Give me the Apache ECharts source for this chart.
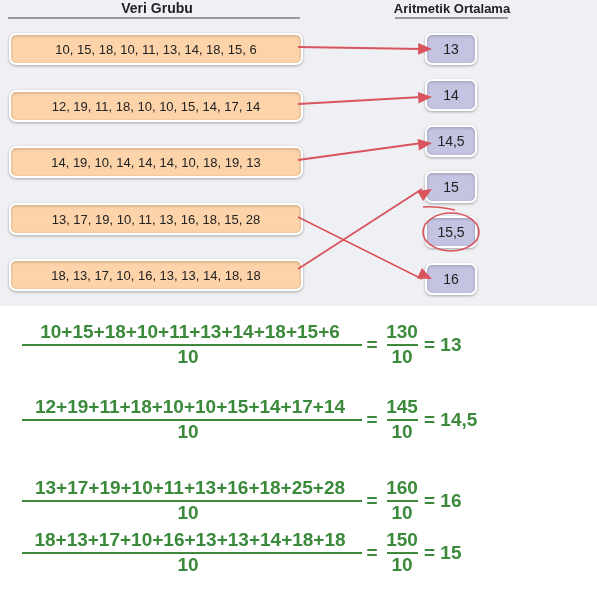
<!DOCTYPE html>
<html>
<head>
<meta charset="utf-8">
<script src="https://cdn.jsdelivr.net/npm/echarts@6/dist/echarts.min.js"></script>
<style>html,body{margin:0;padding:0;background:#fff}#main{width:597px;height:591px}</style>
</head>
<body>
<div id="main"></div>
<script>
// veri grupları ve ortalamalar
const groups = [
  '10, 15, 18, 10, 11, 13, 14, 18, 15, 6',
  '12, 19, 11, 18, 10, 10, 15, 14, 17, 14',
  '14, 19, 10, 14, 14, 14, 10, 18, 19, 13',
  '13, 17, 19, 10, 11, 13, 16, 18, 15, 28',
  '18, 13, 17, 10, 16, 13, 13, 14, 18, 18'
];
const means = ['13', '14', '14,5', '15', '15,5', '16'];
const links = [0, 1, 2, 5, 3]; // her grubun bağlandığı ortalama
const numerators = [
  '10+15+18+10+11+13+14+18+15+6',
  '12+19+11+18+10+10+15+14+17+14',
  '13+17+19+10+11+13+16+18+25+28',
  '18+13+17+10+16+13+13+14+18+18'
];
const sums = ['130', '145', '160', '150'];
const results = ['13', '14,5', '16', '15'];

const leftY = [49, 106, 162, 219, 275];
const rightY = [49, 95, 141, 187, 232, 279];
const fracY = [345, 420, 501, 553];
const red = '#d9545c', green = '#3b8a3b';
const font = '"Liberation Sans", Arial, sans-serif';

const g = [];
g.push({type: 'rect', shape: {x: 0, y: 0, width: 597, height: 306}, style: {fill: '#eef0f3'}});
g.push({type: 'text', x: 157, y: 9, style: {text: 'Veri Grubu', font: 'bold 14px ' + font, fill: '#222', align: 'center', verticalAlign: 'middle'}});
g.push({type: 'line', shape: {x1: 8, y1: 18, x2: 300, y2: 18}, style: {stroke: '#444', lineWidth: 1}});
g.push({type: 'text', x: 452, y: 9, style: {text: 'Aritmetik Ortalama', font: 'bold 13px ' + font, fill: '#222', align: 'center', verticalAlign: 'middle'}});
g.push({type: 'line', shape: {x1: 395, y1: 18, x2: 508, y2: 18}, style: {stroke: '#444', lineWidth: 1}});

groups.forEach((t, i) => {
  g.push({type: 'rect', shape: {x: 10, y: leftY[i] - 15, width: 292, height: 30, r: 6},
    style: {fill: '#fdd3aa', stroke: '#fff', lineWidth: 2, shadowBlur: 3, shadowColor: 'rgba(0,0,0,0.25)', shadowOffsetY: 1}});
  g.push({type: 'text', x: 156, y: leftY[i] + 1, style: {text: t, font: '13px ' + font, fill: '#222', align: 'center', verticalAlign: 'middle'}});
});
means.forEach((t, i) => {
  g.push({type: 'rect', shape: {x: 426, y: rightY[i] - 15, width: 50, height: 30, r: 6},
    style: {fill: '#c4c4e2', stroke: '#fff', lineWidth: 2, shadowBlur: 3, shadowColor: 'rgba(0,0,0,0.25)', shadowOffsetY: 1}});
  g.push({type: 'text', x: 451, y: rightY[i] + 1, style: {text: t, font: '14px ' + font, fill: '#222', align: 'center', verticalAlign: 'middle'}});
});

links.forEach((j, i) => {
  const x1 = 298, y1 = leftY[i] - 2 + (i === 4 ? -4 : 0);
  const x2 = 432, y2 = rightY[j] + (j === 5 ? 0 : (i === 0 ? 0 : 2));
  g.push({type: 'line', shape: {x1, y1, x2: x2 - 10, y2}, style: {stroke: red, lineWidth: 1.8}});
  const a = Math.atan2(y2 - y1, x2 - x1), L = 15, w = 0.4;
  g.push({type: 'polygon', shape: {points: [[x2, y2],
    [x2 - L * Math.cos(a - w), y2 - L * Math.sin(a - w)],
    [x2 - L * Math.cos(a + w), y2 - L * Math.sin(a + w)]]}, style: {fill: red}});
});
// daire
g.push({type: 'ellipse', shape: {cx: 451, cy: 232, rx: 28, ry: 19}, style: {fill: 'none', stroke: red, lineWidth: 1.6}});
g.push({type: 'bezierCurve', shape: {x1: 423, y1: 207, x2: 455, y2: 210, cpx1: 435, cpy1: 206, cpx2: 445, cpy2: 208}, style: {stroke: red, lineWidth: 1.6, fill: 'none'}});

numerators.forEach((t, i) => {
  const y = fracY[i];
  const tf = 'bold 19px ' + font;
  g.push({type: 'text', x: 190, y: y - 12, style: {text: t, font: tf, fill: green, align: 'center', verticalAlign: 'middle'}});
  g.push({type: 'line', shape: {x1: 22, y1: y, x2: 362, y2: y}, style: {stroke: green, lineWidth: 2}});
  g.push({type: 'text', x: 188, y: y + 13, style: {text: '10', font: tf, fill: green, align: 'center', verticalAlign: 'middle'}});
  g.push({type: 'text', x: 372, y: y + 1, style: {text: '=', font: tf, fill: green, align: 'center', verticalAlign: 'middle'}});
  g.push({type: 'text', x: 402, y: y - 12, style: {text: sums[i], font: tf, fill: green, align: 'center', verticalAlign: 'middle'}});
  g.push({type: 'line', shape: {x1: 387, y1: y, x2: 418, y2: y}, style: {stroke: green, lineWidth: 2}});
  g.push({type: 'text', x: 402, y: y + 13, style: {text: '10', font: tf, fill: green, align: 'center', verticalAlign: 'middle'}});
  g.push({type: 'text', x: 424, y: y + 1, style: {text: '= ' + results[i], font: tf, fill: green, align: 'left', verticalAlign: 'middle'}});
});

const chart = echarts.init(document.getElementById('main'));
chart.setOption({graphic: {elements: g}});
</script>
</body>
</html>
